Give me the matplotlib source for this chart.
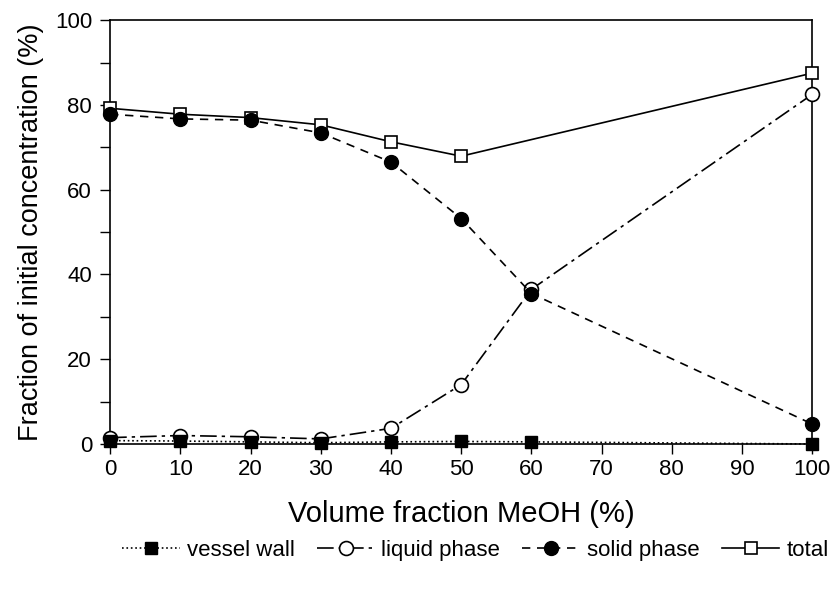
import matplotlib
matplotlib.use("Agg")
import matplotlib.pyplot as plt
from matplotlib.ticker import MultipleLocator

plt.rcParams['font.family'] = ['Liberation Sans', 'DejaVu Sans']

x = [0, 10, 20, 30, 40, 50, 60, 100]
x_total = [0, 10, 20, 30, 40, 50, 100]
vessel_wall = [0.8, 0.7, 0.5, 0.3, 0.5, 0.6, 0.5, 0.0]
liquid_phase = [1.5, 2.0, 1.7, 1.2, 3.7, 14.0, 36.5, 82.5]
solid_phase = [77.8, 76.7, 76.4, 73.4, 66.5, 53.2, 35.5, 4.7]
total = [79.2, 77.8, 77.0, 75.3, 71.3, 67.9, 87.5]

fig = plt.figure(figsize=(8.34, 5.92), dpi=100)
ax = fig.add_axes([0.132, 0.25, 0.842, 0.716])

lw = 1.2
ax.plot(x_total, total, color='black', lw=lw, ls='-', marker='s', ms=9,
        mfc='white', mec='black', mew=1.2, label='total', zorder=3, clip_on=False)
ax.plot(x, liquid_phase, color='black', lw=lw, dashes=(10, 3, 2, 3), marker='o', ms=10,
        mfc='white', mec='black', mew=1.2, label='liquid phase', zorder=4, clip_on=False)
ax.plot(x, solid_phase, color='black', lw=lw, dashes=(5, 4), marker='o', ms=10,
        mfc='black', mec='black', label='solid phase', zorder=5, clip_on=False)
ax.plot(x, vessel_wall, color='black', lw=lw, ls=':', marker='s', ms=8,
        mfc='black', mec='black', label='vessel wall', zorder=6, clip_on=False)

ax.set_xlim(0, 100)
ax.set_ylim(0, 100)
ax.xaxis.set_major_locator(MultipleLocator(10))
ax.yaxis.set_major_locator(MultipleLocator(20))
ax.yaxis.set_minor_locator(MultipleLocator(10))
ax.tick_params(axis='both', which='both', direction='out', labelsize=16, width=1)
ax.tick_params(axis='both', which='major', length=7)
ax.tick_params(axis='y', which='minor', length=7)
ax.tick_params(axis='y', pad=6)
for s in ax.spines.values():
    s.set_linewidth(1.2)

ax.set_xlabel('Volume fraction MeOH (%)', fontsize=21, labelpad=15)
ax.set_ylabel('Fraction of initial concentration (%)', fontsize=19.5, labelpad=8)

h, l = ax.get_legend_handles_labels()
order = [3, 1, 2, 0]
fig.legend([h[i] for i in order], [l[i] for i in order], loc='center',
           bbox_to_anchor=(0.57, 0.07), ncol=4, frameon=False, fontsize=16,
           handlelength=2.6, handletextpad=0.3, columnspacing=1.0)

fig.savefig('out.png', dpi=100)
